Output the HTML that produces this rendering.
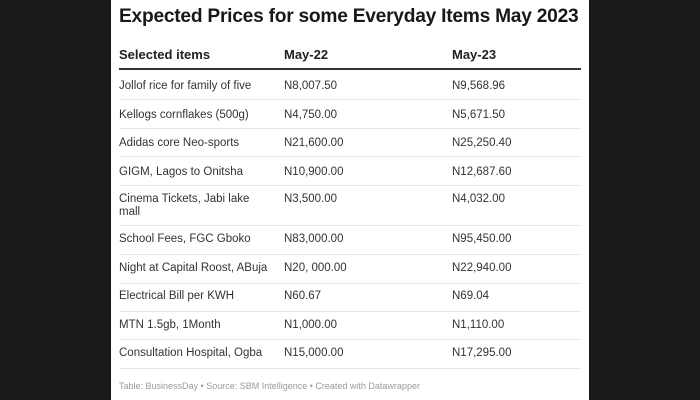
<!DOCTYPE html>
<html><head><style>
body{margin:0;width:700px;height:400px;background:#1a1a1a;font-family:"Liberation Sans",sans-serif;overflow:hidden}
#w{position:absolute;left:111px;top:0;width:478px;height:400px;background:#fff}
h1{position:absolute;left:8px;top:6px;margin:0;font-size:19.2px;font-weight:bold;color:#181818;letter-spacing:-0.25px;white-space:nowrap}
.hd{position:absolute;top:47px;font-size:13px;font-weight:bold;color:#222}
.ln{position:absolute;left:8px;width:462px;height:1px;background:#e6e6e6}
.c{position:absolute;font-size:11.5px;color:#333;line-height:13px}
.f{position:absolute;left:8px;top:381px;font-size:9px;color:#999}
</style></head><body><div id="w">
<h1>Expected Prices for some Everyday Items May 2023</h1>
<div class="hd" style="left:8px">Selected items</div>
<div class="hd" style="left:173px">May-22</div>
<div class="hd" style="left:341px">May-23</div>
<div class="ln" style="top:68px;height:2px;background:#333"></div>
<div class="c" style="left:8px;top:80px">Jollof rice for family of five</div><div class="c" style="left:173px;top:80px">N8,007.50</div><div class="c" style="left:341px;top:80px">N9,568.96</div>
<div class="ln" style="top:99px"></div>
<div class="c" style="left:8px;top:109px">Kellogs cornflakes (500g)</div><div class="c" style="left:173px;top:109px">N4,750.00</div><div class="c" style="left:341px;top:109px">N5,671.50</div>
<div class="ln" style="top:128px"></div>
<div class="c" style="left:8px;top:137px">Adidas core Neo-sports</div><div class="c" style="left:173px;top:137px">N21,600.00</div><div class="c" style="left:341px;top:137px">N25,250.40</div>
<div class="ln" style="top:156px"></div>
<div class="c" style="left:8px;top:166px">GIGM, Lagos to Onitsha</div><div class="c" style="left:173px;top:166px">N10,900.00</div><div class="c" style="left:341px;top:166px">N12,687.60</div>
<div class="ln" style="top:185px"></div>
<div class="c" style="left:8px;top:193px">Cinema Tickets, Jabi lake<br>mall</div><div class="c" style="left:173px;top:193px">N3,500.00</div><div class="c" style="left:341px;top:193px">N4,032.00</div>
<div class="ln" style="top:225px"></div>
<div class="c" style="left:8px;top:233px">School Fees, FGC Gboko</div><div class="c" style="left:173px;top:233px">N83,000.00</div><div class="c" style="left:341px;top:233px">N95,450.00</div>
<div class="ln" style="top:254px"></div>
<div class="c" style="left:8px;top:262px">Night at Capital Roost, ABuja</div><div class="c" style="left:173px;top:262px">N20, 000.00</div><div class="c" style="left:341px;top:262px">N22,940.00</div>
<div class="ln" style="top:283px"></div>
<div class="c" style="left:8px;top:290px">Electrical Bill per KWH</div><div class="c" style="left:173px;top:290px">N60.67</div><div class="c" style="left:341px;top:290px">N69.04</div>
<div class="ln" style="top:311px"></div>
<div class="c" style="left:8px;top:319px">MTN 1.5gb, 1Month</div><div class="c" style="left:173px;top:319px">N1,000.00</div><div class="c" style="left:341px;top:319px">N1,110.00</div>
<div class="ln" style="top:339px"></div>
<div class="c" style="left:8px;top:347px">Consultation Hospital, Ogba</div><div class="c" style="left:173px;top:347px">N15,000.00</div><div class="c" style="left:341px;top:347px">N17,295.00</div>
<div class="ln" style="top:368px"></div>
<div class="f">Table: BusinessDay • Source: SBM Intelligence • Created with Datawrapper</div>
</div></body></html>
